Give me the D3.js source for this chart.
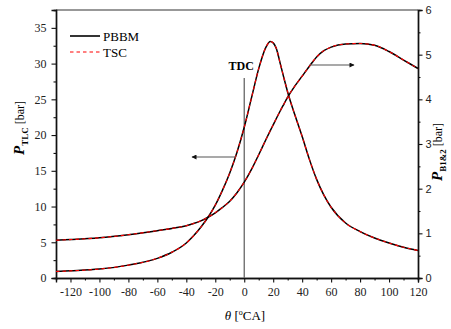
<!DOCTYPE html>
<html>
<head>
<meta charset="utf-8">
<script src="https://cdn.jsdelivr.net/npm/d3@7"></script>
<style>
  body { margin: 0; background: #fff; }
  svg { display: block; }
</style>
</head>
<body>
<div id="chart"></div>
<script>
// crank angle samples [°CA]
const theta = [-130, -120, -100, -80, -60, -50, -40, -35, -30, -25, -20, -15, -10, -5, 0, 5, 10, 15, 18, 20, 22, 25, 27.5, 30, 35, 40, 45, 50, 55, 60, 70, 80, 90, 100, 110, 120];

// cylinder pressure P_TLC [bar] (left axis)
const tlcPBBM = [0.9, 1.0, 1.25, 1.8, 2.75, 3.6, 4.9, 5.9, 7.1, 8.5, 10.2, 12.3, 14.7, 17.6, 21.1, 25.2, 29.3, 32.3, 33.1, 32.9, 32.2, 29.9, 27.9, 26.0, 22.8, 19.8, 16.6, 13.8, 11.6, 9.9, 7.7, 6.5, 5.6, 4.9, 4.3, 3.85];
const tlcTSC  = [0.9, 1.0, 1.25, 1.8, 2.75, 3.6, 4.9, 5.9, 7.1, 8.5, 10.2, 12.3, 14.7, 17.6, 21.1, 25.2, 29.3, 32.3, 33.1, 32.9, 32.2, 29.9, 27.9, 26.0, 22.8, 19.8, 16.6, 13.8, 11.6, 9.9, 7.7, 6.5, 5.6, 4.9, 4.3, 3.85];

// pressure P_B1&2 [bar] (right axis)
const bPBBM = [0.845, 0.86, 0.9, 0.97, 1.06, 1.11, 1.17, 1.22, 1.28, 1.36, 1.46, 1.58, 1.72, 1.91, 2.145, 2.43, 2.76, 3.1, 3.3, 3.43, 3.56, 3.75, 3.9, 4.05, 4.3, 4.52, 4.74, 4.95, 5.09, 5.17, 5.24, 5.25, 5.21, 5.07, 4.88, 4.69];
const bTSC  = [0.845, 0.86, 0.9, 0.97, 1.06, 1.11, 1.17, 1.22, 1.28, 1.36, 1.46, 1.58, 1.72, 1.91, 2.145, 2.43, 2.76, 3.1, 3.3, 3.43, 3.56, 3.75, 3.9, 4.05, 4.3, 4.52, 4.74, 4.95, 5.09, 5.17, 5.24, 5.25, 5.21, 5.07, 4.88, 4.69];

const xTicks = [-120, -100, -80, -60, -40, -20, 0, 20, 40, 60, 80, 100, 120];
const yLeftTicks = [0, 5, 10, 15, 20, 25, 30, 35];
const yRightTicks = [0, 1, 2, 3, 4, 5, 6];

const W = 451, H = 329;
const margin = { top: 10, right: 33, bottom: 51, left: 56 };
const width = W - margin.left - margin.right,
      height = H - margin.top - margin.bottom;

const serif = "'Liberation Serif', 'Times New Roman', serif";
const sans = "'Liberation Sans', Arial, sans-serif";
const plain = d => String(d);   // keep the ASCII hyphen for negatives

const svg = d3.select("#chart").append("svg")
    .attr("width", W)
    .attr("height", H);

const g = svg.append("g")
    .attr("transform", "translate(" + margin.left + "," + margin.top + ")");

const x = d3.scaleLinear().domain([-130, 120]).range([0, width]);
const yL = d3.scaleLinear().domain([0, 37.5]).range([height, 0]);
const yR = d3.scaleLinear().domain([0, 6]).range([height, 0]);

// top frame line
g.append("line")
    .attr("x1", 0).attr("x2", width).attr("y1", 0).attr("y2", 0)
    .attr("stroke", "#333").attr("stroke-width", 1.2);

// minor ticks
function minor(axis, scale, vals) {
    return axis(scale).tickValues(vals).tickSize(2.5).tickFormat("");
}
g.append("g").attr("transform", "translate(0," + height + ")")
    .call(minor(d3.axisBottom, x, d3.range(-130, 121, 10).filter(v => v % 20 !== 0)));
g.append("g")
    .call(minor(d3.axisLeft, yL, [2.5, 7.5, 12.5, 17.5, 22.5, 27.5, 32.5, 37.5]));
g.append("g").attr("transform", "translate(" + width + ",0)")
    .call(minor(d3.axisRight, yR, [0.5, 1.5, 2.5, 3.5, 4.5, 5.5]));

// major axes
const xAxis = g.append("g").attr("transform", "translate(0," + height + ")")
    .call(d3.axisBottom(x).tickValues(xTicks).tickFormat(plain).tickSize(4.5).tickPadding(5));
xAxis.selectAll("text").attr("font-family", serif).attr("font-size", 12).attr("fill", "#222");

const yAxisL = g.append("g")
    .call(d3.axisLeft(yL).tickValues(yLeftTicks).tickFormat(plain).tickSize(4.5).tickPadding(5));
yAxisL.selectAll("text").attr("font-family", serif).attr("font-size", 12).attr("fill", "#222");

const yAxisR = g.append("g").attr("transform", "translate(" + width + ",0)")
    .call(d3.axisRight(yR).tickValues(yRightTicks).tickFormat(plain).tickSize(4.5).tickPadding(3));
yAxisR.selectAll("text").attr("font-family", sans).attr("font-size", 11).attr("fill", "#222");

g.selectAll(".domain").attr("stroke", "#111").attr("stroke-width", 1.4);
g.selectAll(".tick line").attr("stroke", "#111").attr("stroke-width", 1.1);

// TDC line
g.append("line")
    .attr("x1", x(0)).attr("x2", x(0))
    .attr("y1", 68).attr("y2", height)
    .attr("stroke", "#666").attr("stroke-width", 1.3);
g.append("text")
    .attr("x", x(0) - 3).attr("y", 60)
    .attr("text-anchor", "middle")
    .attr("font-family", serif).attr("font-weight", "bold").attr("font-size", 12)
    .text("TDC");

// curves
const lineL = d3.line().x((d, i) => x(theta[i])).y(d => yL(d)).curve(d3.curveMonotoneX);
const lineR = d3.line().x((d, i) => x(theta[i])).y(d => yR(d)).curve(d3.curveMonotoneX);

function drawPair(gen, solid, dashed) {
    g.append("path").attr("d", gen(solid))
        .attr("fill", "none").attr("stroke", "#000").attr("stroke-width", 1.5);
    g.append("path").attr("d", gen(dashed))
        .attr("fill", "none").attr("stroke", "#f00").attr("stroke-width", 1.1)
        .attr("stroke-dasharray", "3.5,3");
}
drawPair(lineL, tlcPBBM, tlcTSC);
drawPair(lineR, bPBBM, bTSC);

// arrows
svg.append("defs").append("marker")
    .attr("id", "ah").attr("viewBox", "0 0 10 10")
    .attr("refX", 9).attr("refY", 5)
    .attr("markerWidth", 8).attr("markerHeight", 5)
    .attr("markerUnits", "userSpaceOnUse")
    .attr("orient", "auto")
    .append("path").attr("d", "M0,0L10,5L0,10Z").attr("fill", "#111");

g.append("line")
    .attr("x1", 236 - margin.left).attr("y1", 157 - margin.top)
    .attr("x2", 192 - margin.left).attr("y2", 157 - margin.top)
    .attr("stroke", "#555").attr("stroke-width", 1.2).attr("marker-end", "url(#ah)");
g.append("line")
    .attr("x1", 310 - margin.left).attr("y1", 65 - margin.top)
    .attr("x2", 354 - margin.left).attr("y2", 65 - margin.top)
    .attr("stroke", "#555").attr("stroke-width", 1.2).attr("marker-end", "url(#ah)");

// legend
const legend = g.append("g").attr("transform", "translate(14,26)");
legend.append("line").attr("x1", 0).attr("x2", 30).attr("y1", 0).attr("y2", 0)
    .attr("stroke", "#000").attr("stroke-width", 1.6);
legend.append("text").attr("x", 33).attr("y", 4.5)
    .attr("font-family", serif).attr("font-size", 13).text("PBBM");
legend.append("line").attr("x1", 0).attr("x2", 30).attr("y1", 16).attr("y2", 16)
    .attr("stroke", "#f00").attr("stroke-width", 1.1).attr("stroke-dasharray", "3.5,3");
legend.append("text").attr("x", 33).attr("y", 20.5)
    .attr("font-family", serif).attr("font-size", 13).text("TSC");

// axis titles
const xl = svg.append("text")
    .attr("x", 245).attr("y", 320)
    .attr("text-anchor", "middle")
    .attr("font-family", serif).attr("font-size", 13);
xl.append("tspan").attr("font-style", "italic").text("θ");
xl.append("tspan").text(" [");
xl.append("tspan").attr("font-size", 8).attr("dy", -5).text("o");
xl.append("tspan").attr("dy", 5).text("CA]");

function yTitle(px, py, sub) {
    const t = svg.append("text")
        .attr("transform", "translate(" + px + "," + py + ") rotate(-90)")
        .attr("text-anchor", "middle")
        .attr("font-family", serif).attr("font-size", 12);
    t.append("tspan").attr("font-style", "italic").attr("font-weight", "bold")
        .attr("font-size", 15).text("P");
    t.append("tspan").attr("font-weight", "bold").attr("font-size", 9)
        .attr("dy", 4).text(sub);
    t.append("tspan").attr("dy", -4).text(" [bar]");
}
yTitle(24, 128, "TLC");
yTitle(442, 152, "B1&2");
</script>
</body>
</html>
